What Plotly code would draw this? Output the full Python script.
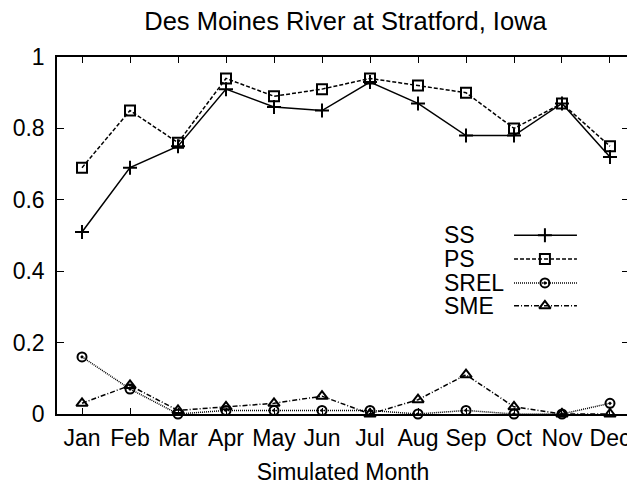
import plotly.graph_objects as go

months = ["Jan", "Feb", "Mar", "Apr", "May", "Jun", "Jul", "Aug", "Sep", "Oct", "Nov", "Dec"]
month_idx = list(range(1, 13))
ss = [0.51, 0.69, 0.75, 0.91, 0.86, 0.85, 0.93, 0.87, 0.78, 0.78, 0.87, 0.72]
ps = [0.69, 0.85, 0.76, 0.94, 0.89, 0.91, 0.94, 0.92, 0.90, 0.80, 0.87, 0.75]
srel = [0.16, 0.07, 0.00, 0.01, 0.01, 0.01, 0.01, 0.00, 0.01, 0.00, 0.00, 0.03]
sme = [0.03, 0.08, 0.01, 0.02, 0.03, 0.05, 0.00, 0.04, 0.11, 0.02, 0.00, 0.00]
y_ticks = [0, 0.2, 0.4, 0.6, 0.8, 1]
y_tick_text = ["0", "0.2", "0.4", "0.6", "0.8", "1"]

FONT = "Liberation Sans, Arial, Helvetica, sans-serif"
FS = 23

# page body has a default 8px margin; size the figure so it fits the 635x487 window
W, H, OFF = 627, 479, 8

series = [
    ("SS", ss, "solid", "cross-thin-open", 10, 1.5),
    ("PS", ps, "4px,2px", "square-open", 10, 1.5),
    ("SREL", srel, "1px,1px", "circle-open-dot", 9, 1.5),
    ("SME", sme, "5px,2px,1px,2px", "triangle-up-open", 10, 1.5),
]

fig = go.Figure()
for name, vals, dash, sym, msize, lw in series:
    fig.add_trace(go.Scatter(
        x=month_idx, y=vals, mode="lines+markers", name=name,
        line=dict(color="black", width=lw, dash=dash),
        marker=dict(symbol=sym, size=msize, color="black", line=dict(color="black", width=2)),
        showlegend=False, cliponaxis=False,
    ))

# Manual gnuplot-style legend (text left, sample right) on an overlay axis in [0,1]
leg_rows = [0.501, 0.434, 0.367, 0.303]
x0, x1, xm, xt = 0.799, 0.909, 0.853, 0.675
for (name, vals, dash, sym, msize, lw), yy in zip(series, leg_rows):
    fig.add_trace(go.Scatter(
        x=[x0, x1], y=[yy, yy], mode="lines", xaxis="x2", yaxis="y2",
        line=dict(color="black", width=lw, dash=dash), showlegend=False, hoverinfo="skip",
    ))
    fig.add_trace(go.Scatter(
        x=[xm], y=[yy], mode="markers", xaxis="x2", yaxis="y2",
        marker=dict(symbol=sym, size=msize, color="black", line=dict(color="black", width=2)),
        showlegend=False, hoverinfo="skip",
    ))
    fig.add_annotation(
        x=xt, y=yy, xref="x2", yref="y2", text=name, showarrow=False,
        xanchor="left", yanchor="middle", height=22, valign="middle", borderpad=0,
        font=dict(family=FONT, size=FS, color="black"),
    )

fig.update_layout(
    width=W, height=H,
    margin=dict(l=57 - OFF, r=6, t=57 - OFF, b=73),
    paper_bgcolor="white", plot_bgcolor="white",
    font=dict(family=FONT, size=FS, color="black"),
    title=dict(text="Des Moines River at Stratford, Iowa", x=(345.5 - OFF) / W, xanchor="center",
               y=1 - 4 / H, yanchor="top", font=dict(family=FONT, size=25.5, color="black")),
    xaxis=dict(
        range=[0.479, 12.396], tickmode="array", tickvals=month_idx, ticktext=months,
        ticks="inside", ticklen=6, tickcolor="black", mirror="ticks",
        showline=True, linecolor="black", linewidth=1.5, showgrid=False, zeroline=False,
        title=dict(text="Simulated Month", font=dict(family=FONT, size=FS), standoff=14),
        tickfont=dict(family=FONT, size=FS), ticklabelstandoff=3, automargin=False,
    ),
    yaxis=dict(
        range=[0, 1], tickmode="array", tickvals=y_ticks, ticktext=y_tick_text,
        ticks="inside", ticklen=7, tickcolor="black", mirror="ticks",
        showline=True, linecolor="black", linewidth=1.5, showgrid=False, zeroline=False,
        tickfont=dict(family=FONT, size=FS), ticklabelstandoff=6, automargin=False,
    ),
    xaxis2=dict(range=[0, 1], overlaying="x", anchor="y2", visible=False),
    yaxis2=dict(range=[0, 1], overlaying="y", anchor="x2", visible=False),
)

fig.write_html("out.html")
